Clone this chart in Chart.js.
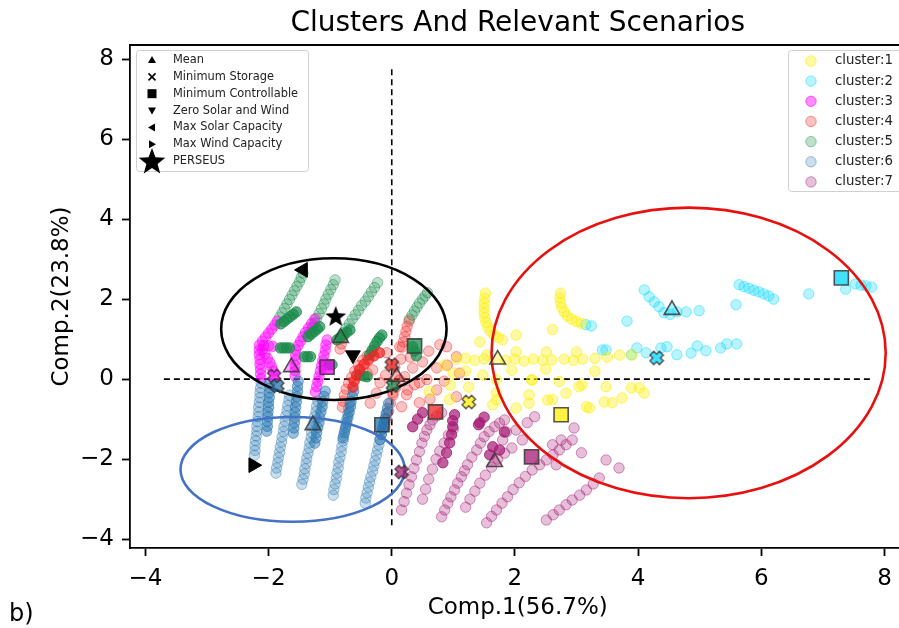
<!DOCTYPE html>
<html><head><meta charset="utf-8">
<script src="https://cdn.jsdelivr.net/npm/chart.js@4/dist/chart.umd.min.js"></script>
<style>html,body{margin:0;padding:0;overflow:hidden;background:#fff}canvas{display:block}</style>
</head><body>
<canvas id="c" width="917" height="628"></canvas>
<script>
// ---------- tick labels / axes ----------
const xTicks = [-4, -2, 0, 2, 4, 6, 8];
const yTicks = [-4, -2, 0, 2, 4, 6, 8];
const titleText = 'Clusters And Relevant Scenarios';
const xTitle = 'Comp.1(56.7%)';
const yTitle = 'Comp.2(23.8%)';
const panelLabel = 'b)';

// ---------- clusters ----------
const clusterNames = ['cluster:1','cluster:2','cluster:3','cluster:4','cluster:5','cluster:6','cluster:7'];
const clusterRGB = [[255,238,0],[0,215,255],[255,0,255],[240,35,35],[25,140,75],[35,115,175],[165,25,115]];

const cluster1 = [[1.52,2.15],[1.51,2.02],[1.5,1.9],[1.5,1.78],[1.5,1.66],[1.51,1.54],[1.53,1.42],[1.56,1.3],[1.6,1.2],[1.66,1.11],[1.73,1.04],[1.8,0.98],
 [2.74,2.15],[2.73,2.03],[2.74,1.91],[2.76,1.79],[2.8,1.68],[2.85,1.58],[2.92,1.5],[3.0,1.44],[3.08,1.39],
 [1.43,0.93],[2.02,1.1],[2.61,1.24],[1.54,0.6],[2.02,0.68],[2.51,0.68],[3.0,0.68],
 [1.05,0.5],[1.2,0.52],[1.35,0.47],[1.5,0.5],[1.85,0.47],[2.0,0.5],[2.15,0.45],[2.3,0.5],[2.45,0.47],[2.6,0.48],[2.8,0.5],[2.95,0.47],[3.1,0.5],[3.3,0.52],[3.5,0.55],[3.7,0.6],[3.9,0.6],
 [1.48,0.1],[0.61,-0.31],[0.94,-0.51],[1.64,-0.64],[2.02,-0.72],[2.28,-0.02],[2.72,-0.06],[3.04,-0.19],[3.48,-0.19],[1.7,-0.34],[2.23,-0.39],[2.61,-0.51],[3.16,-0.69],[3.58,-0.59],[4.02,-0.22],
 [1.7,-0.02],[2.27,-0.02],[3.09,-0.14],[1.7,-0.52],[2.23,-0.6],[2.53,-0.52],[2.83,-0.35],[3.21,-0.72],[3.45,-0.57],[3.74,-0.47],[3.89,-0.22],[4.1,-0.35],
 [0.85,0.35],[1.0,0.15],[1.2,0.2],[0.95,-0.15],[1.25,-0.2],[1.95,0.22],[2.5,0.25],[3.3,0.2]];

const cluster2 = [[4.1,2.23],[4.18,2.06],[4.26,1.93],[4.34,1.81],[4.42,1.66],[4.52,1.62],[4.63,1.68],[4.78,1.68],
 [5.64,2.36],[5.72,2.31],[5.8,2.27],[5.88,2.22],[5.96,2.18],[6.04,2.13],[6.12,2.08],[6.2,2.0],
 [3.15,1.36],[3.24,1.33],[3.82,1.45],[4.99,1.71],[5.59,1.86],[6.77,2.13],[7.37,2.25],[7.53,2.38],[7.62,2.35],[7.7,2.33],[7.79,2.3],
 [3.42,0.73],[3.48,0.73],[3.89,0.61],[3.98,0.78],[4.13,0.66],[4.37,0.78],[4.47,0.81],[4.63,0.61],[4.86,0.65],[4.96,0.83],[5.1,0.71],[5.34,0.78],[5.44,0.88],[5.6,0.88]];

const cluster3 = [[-2.15,0.85],[-2.1,0.95],[-2.05,1.05],[-2.0,1.15],[-1.95,1.25],[-1.9,1.35],[-1.86,1.45],
 [-2.08,0.84],[-2.0,0.83],[-1.93,0.82],
 [-2.1,0.74],[-2.06,0.63],[-2.02,0.52],[-1.98,0.41],[-1.95,0.3],[-1.92,0.2],
 [-2.15,0.73],[-2.15,0.61],[-2.14,0.49],[-2.14,0.37],[-2.13,0.25],[-2.13,0.13],[-2.12,0.01],
 [-1.56,0.73],[-1.52,0.84],[-1.48,0.95],[-1.44,1.06],[-1.4,1.17],[-1.35,1.28],[-1.3,1.39],[-1.25,1.5],
 [-1.56,0.6],[-1.56,0.47],[-1.57,0.34],[-1.57,0.21],[-1.57,0.08],
 [-1.05,0.98],[-1.07,0.85],[-1.08,0.72],[-1.1,0.59],[-1.12,0.46],[-1.14,0.33],[-1.16,0.2],[-1.18,0.07],[-1.2,-0.06],[-1.22,-0.19],[-1.24,-0.32]];

const cluster4 = [[-0.8,-0.7],[-0.79,-0.55],[-0.77,-0.4],[-0.74,-0.25],[-0.7,-0.1],[-0.65,0.05],[-0.6,0.2],[-0.54,0.34],[-0.47,0.47],[-0.4,0.58],[-0.32,0.68],
 [-0.11,-1.19],[-0.08,-1.0],[-0.05,-0.8],[-0.02,-0.6],[0.02,-0.4],[0.07,-0.2],[0.13,-0.02],
 [0.17,0.8],[0.19,0.93],[0.21,1.06],[0.23,1.19],[0.25,1.32],[0.28,1.45],
 [-0.84,0.75],[-0.82,0.88],[-0.8,1.02],
 [0.89,0.81],[1.05,0.56],[1.1,0.15],[0.73,0.28],[0.5,0.43],[0.34,0.28],[0.21,0.06],[0.45,-0.09],[0.26,-0.27],[0.45,-0.59],[0.73,-0.27],[1.05,-0.44],
 [-0.08,0.66],[0.13,0.81],[0.78,0.86],[0.02,-0.34],[0.16,-0.69],[0.57,-0.01],[0.37,-0.14],[0.24,-0.39],[-0.19,-0.09],[-0.31,0.23],[-0.4,0.15],
 [0.6,0.7],[0.9,0.35],[0.3,0.55],[0.05,0.3],[-0.1,0.1],[0.62,-0.5],[0.85,-0.05],[0.15,0.5],[-0.25,-0.35],[-0.35,-0.6]];
const cluster4Core = [[-0.63,-0.2],[-0.61,-0.05],[-0.57,0.1],[-0.52,0.24],[-0.45,0.37],[-0.38,0.48],[-0.29,0.58],[-0.2,0.66]];

const cluster5 = [[-1.82,1.55],[-1.78,1.66],[-1.74,1.77],[-1.7,1.88],[-1.66,1.99],[-1.62,2.1],[-1.58,2.21],[-1.54,2.32],[-1.5,2.43],[-1.47,2.54],[-1.44,2.65],
 [-1.33,1.16],[-1.29,1.28],[-1.25,1.4],[-1.22,1.52],[-1.18,1.64],[-1.14,1.76],[-1.1,1.88],[-1.07,2.0],[-1.03,2.12],[-0.99,2.24],[-0.95,2.36],[-0.92,2.48],
 [-0.79,1.16],[-0.74,1.27],[-0.69,1.38],[-0.64,1.5],[-0.59,1.61],[-0.54,1.72],[-0.49,1.84],[-0.43,1.95],[-0.38,2.06],[-0.33,2.18],[-0.28,2.29],[-0.23,2.41],
 [0.29,1.5],[0.33,1.6],[0.37,1.7],[0.41,1.8],[0.45,1.9],[0.5,2.0],[0.54,2.08],[0.58,2.16]];
const cluster5Core = [[-1.8,1.38],[-1.75,1.44],[-1.7,1.5],[-1.65,1.56],[-1.6,1.62],[-1.55,1.68],
 [-1.81,0.78],[-1.76,0.78],[-1.71,0.78],[-1.66,0.78],
 [-1.42,0.56],[-1.37,0.56],[-1.32,0.56],
 [-1.36,1.06],[-1.31,1.12],[-1.26,1.19],[-1.21,1.25],[-1.17,1.31],
 [-0.89,0.98],[-0.84,1.04],[-0.78,1.1],[-0.73,1.17],[-0.68,1.23],
 [-0.36,0.61],[-0.32,0.72],[-0.28,0.83],[-0.24,0.94],[-0.2,1.03],[-0.16,1.1],
 [-0.52,0.1],[-0.46,0.08],[-0.4,0.06],
 [0.34,0.81],[0.37,0.7],[0.4,0.58],
 [-1.02,0.36],[-0.97,0.36]];

const cluster6 = [[-2.12,-0.1],[-2.13,-0.22],[-2.14,-0.34],[-2.14,-0.46],[-2.15,-0.58],[-2.16,-0.7],[-2.16,-0.82],[-2.17,-0.94],[-2.18,-1.06],[-2.19,-1.18],[-2.19,-1.3],[-2.2,-1.42],[-2.21,-1.54],[-2.22,-1.66],[-2.22,-1.78],[-2.23,-1.9],
 [-1.66,-0.4],[-1.67,-0.53],[-1.69,-0.66],[-1.7,-0.79],[-1.72,-0.92],[-1.73,-1.05],[-1.75,-1.18],[-1.76,-1.31],[-1.78,-1.44],[-1.79,-1.57],[-1.81,-1.7],[-1.82,-1.83],[-1.84,-1.96],[-1.85,-2.09],[-1.87,-2.22],[-1.88,-2.35],
 [-1.2,-0.55],[-1.22,-0.68],[-1.23,-0.81],[-1.25,-0.94],[-1.26,-1.07],[-1.28,-1.2],[-1.3,-1.33],[-1.31,-1.46],[-1.33,-1.59],[-1.34,-1.72],[-1.36,-1.85],[-1.38,-1.98],[-1.39,-2.11],[-1.41,-2.24],[-1.42,-2.37],[-1.44,-2.5],[-1.46,-2.63],
 [-0.68,-0.6],[-0.7,-0.73],[-0.71,-0.87],[-0.73,-1.0],[-0.74,-1.14],[-0.76,-1.27],[-0.78,-1.41],[-0.79,-1.54],[-0.81,-1.68],[-0.82,-1.81],[-0.84,-1.95],[-0.86,-2.08],[-0.87,-2.22],[-0.89,-2.35],[-0.9,-2.49],[-0.92,-2.62],[-0.94,-2.76],[-0.95,-2.9],
 [-0.08,-0.85],[-0.1,-0.98],[-0.12,-1.11],[-0.15,-1.24],[-0.17,-1.38],[-0.19,-1.51],[-0.21,-1.64],[-0.23,-1.77],[-0.25,-1.9],[-0.27,-2.04],[-0.29,-2.17],[-0.31,-2.3],[-0.34,-2.44],[-0.36,-2.57],[-0.38,-2.7],[-0.4,-2.84],[-0.42,-2.97],[-0.43,-3.1]];
const cluster6Core = [[-1.98,-0.1],[-1.98,-0.22],[-1.99,-0.34],[-1.99,-0.46],[-2.0,-0.58],[-2.0,-0.7],[-2.01,-0.82],[-2.01,-0.94],[-2.02,-1.06],[-2.02,-1.18],[-2.03,-1.3],
 [-1.52,-0.05],[-1.53,-0.18],[-1.53,-0.31],[-1.54,-0.44],[-1.55,-0.57],[-1.56,-0.7],[-1.57,-0.83],[-1.57,-0.96],[-1.58,-1.09],[-1.59,-1.22],[-1.6,-1.35],
 [-1.08,-0.3],[-1.1,-0.43],[-1.12,-0.56],[-1.13,-0.69],[-1.15,-0.82],[-1.17,-0.95],[-1.18,-1.08],[-1.2,-1.21],[-1.22,-1.34],[-1.23,-1.47],[-1.25,-1.6],
 [-0.62,-0.3],[-0.64,-0.43],[-0.66,-0.56],[-0.67,-0.69],[-0.69,-0.82],[-0.71,-0.95],[-0.73,-1.08],[-0.75,-1.21],[-0.77,-1.34],[-0.79,-1.47],
 [-0.05,-0.6],[-0.07,-0.73],[-0.09,-0.86],[-0.11,-0.99],[-0.13,-1.12],[-0.15,-1.25],[-0.17,-1.38],[-0.19,-1.51]];

const cluster7 = [[0.16,-3.27],[0.2,-3.06],[0.24,-2.85],[0.28,-2.64],[0.32,-2.44],[0.36,-2.23],[0.4,-2.02],[0.45,-1.81],[0.49,-1.6],[0.53,-1.43],[0.57,-1.27],[0.62,-1.14],[0.66,-1.02],[0.73,-0.92],[0.81,-0.84],
 [0.5,-3.0],[0.55,-2.75],[0.6,-2.5],[0.66,-2.25],[0.72,-2.0],[0.78,-1.8],[0.85,-1.6],[0.92,-1.4],[1.0,-1.25],
 [0.81,-3.44],[0.86,-3.27],[0.91,-3.1],[0.96,-2.94],[1.02,-2.77],[1.07,-2.6],[1.13,-2.44],[1.18,-2.29],[1.23,-2.14],[1.3,-1.95],[1.38,-1.77],[1.44,-1.6],[1.5,-1.44],[1.58,-1.31],[1.67,-1.19],[1.75,-1.1],[1.83,-1.02],
 [1.2,-3.2],[1.27,-3.0],[1.35,-2.8],[1.43,-2.6],[1.52,-2.4],[1.62,-2.2],[1.72,-2.0],[1.83,-1.85],[1.95,-1.72],
 [1.54,-3.59],[1.62,-3.43],[1.7,-3.27],[1.79,-3.1],[1.88,-2.94],[1.97,-2.76],[2.07,-2.59],[2.17,-2.43],[2.28,-2.27],[2.4,-2.14],[2.51,-2.02],[2.62,-1.89],[2.72,-1.77],[2.83,-1.64],[2.93,-1.52],
 [2.51,-3.52],[2.62,-3.39],[2.72,-3.27],[2.83,-3.14],[2.93,-3.02],[3.05,-2.9],[3.16,-2.77],[3.27,-2.62],[3.37,-2.47],
 [3.48,-2.02],[3.69,-2.22],[3.08,-1.84],[2.96,-1.22],[2.75,-1.52],[2.61,-1.64],[2.67,-2.14],[2.32,-0.94],[2.2,-1.09],[2.12,-1.52],[2.02,-1.27],[1.86,-1.32],[1.8,-1.52]];
const cluster7Core = [[1.02,-0.89],[0.99,-1.04],[0.99,-1.19],[0.97,-1.39],[0.94,-1.59],[0.89,-1.84],[0.83,-2.09],[1.43,-1.09],[1.5,-0.95],[1.64,-1.69],[1.75,-1.77],[1.59,-1.89],[0.34,-1.19],[0.42,-1.0],[0.5,-0.84],[1.41,-1.14],[1.83,-1.32]];

// ---------- relevant scenarios (one per cluster, cluster order 1..7) ----------
const meanPts        = [[1.72,0.49],[4.55,1.73],[-1.63,0.3],[0.08,0.06],[-0.83,1.03],[-1.28,-1.15],[1.67,-2.07]];
const minStoragePts  = [[1.25,-0.57],[4.3,0.53],[-1.91,0.08],[0.0,0.36],[0.02,-0.15],[-1.86,-0.17],[0.16,-2.32]];
const minCtrlPts     = [[2.75,-0.89],[7.3,2.53],[-1.05,0.3],[0.71,-0.82],[0.37,0.83],[-0.16,-1.14],[2.27,-1.94]];
const zeroSolarWind  = [[-0.63,0.6]];
const maxSolar       = [[-1.44,2.73]];
const maxWind        = [[-2.25,-2.15]];
const perseus        = [[-0.91,1.58]];

// reference lines and highlight ellipses (data units)
const hLine = [[-3.7,0],[7.8,0]];
const vLine = [[0,-3.65],[0,7.75]];
const ellipses = [
  {cx:-0.94, cy:1.25, rx:1.83, ry:1.77, color:'#000000'},
  {cx:-1.61, cy:-2.255, rx:1.82, ry:1.31, color:'#4472c4'},
  {cx:4.82, cy:0.655, rx:3.2, ry:3.63, color:'#e8100f'}
];
const markerLegend = ['Mean','Minimum Storage','Minimum Controllable','Zero Solar and Wind','Max Solar Capacity','Max Wind Capacity','PERSEUS'];

// ---------- helpers ----------
const FONT = "'DejaVu Sans', sans-serif";
const rgba = (c,a) => `rgba(${c[0]},${c[1]},${c[2]},${a})`;
const toXY = arr => arr.map(p => ({x:p[0], y:p[1]}));

function makeX(fill, edge, s) {
  const cv = document.createElement('canvas'); cv.width = s; cv.height = s;
  const g = cv.getContext('2d'); const h = s/2, t = s*0.17, L = s*0.42;
  g.translate(h,h); g.rotate(Math.PI/4);
  g.beginPath();
  g.moveTo(-t,-L); g.lineTo(t,-L); g.lineTo(t,-t); g.lineTo(L,-t); g.lineTo(L,t); g.lineTo(t,t);
  g.lineTo(t,L); g.lineTo(-t,L); g.lineTo(-t,t); g.lineTo(-L,t); g.lineTo(-L,-t); g.lineTo(-t,-t); g.closePath();
  g.fillStyle = fill; g.fill(); g.lineWidth = 1.4; g.strokeStyle = edge; g.stroke();
  return cv;
}
function starPath(g, cx, cy, R) {
  const r = R*0.42; g.beginPath();
  for (let i=0;i<10;i++){ const a = -Math.PI/2 + i*Math.PI/5; const rr = i%2===0?R:r;
    const px = cx + rr*Math.cos(a), py = cy + rr*Math.sin(a); i?g.lineTo(px,py):g.moveTo(px,py);} g.closePath();
}
function makeStar(s) {
  const cv = document.createElement('canvas'); cv.width = s; cv.height = s;
  const g = cv.getContext('2d'); starPath(g, s/2, s/2+s*0.05, s*0.5); g.fillStyle='#000'; g.fill(); return cv;
}

const clusterSeries = [cluster1, cluster2, cluster3, cluster4, cluster5, cluster6, cluster7];
const coreSeries = {3: cluster4Core, 4: cluster5Core, 5: cluster6Core, 6: cluster7Core};
const fillAlpha = [0.36, 0.28, 0.45, 0.28, 0.28, 0.24, 0.28];
const edgeAlpha = [0.6, 0.45, 0.55, 0.45, 0.45, 0.42, 0.45];
const coreAlpha = {3:0.7, 4:0.7, 5:0.45, 6:0.7};
const edgeGray = 'rgba(55,55,55,0.85)';
const PR = 5.2;

const datasets = [];
datasets.push({label:'Mean', data:toXY(meanPts), special:true, order:1, pointStyle:'triangle', pointRadius:9,
  backgroundColor: clusterRGB.map(c=>rgba(c,0.35)), borderColor:edgeGray, borderWidth:1.6});
datasets.push({label:'Minimum Storage', data:toXY(minStoragePts), special:true, order:1,
  pointStyle: clusterRGB.map(c=>makeX(rgba(c,0.75), edgeGray, 16)), pointRadius:8, backgroundColor:'#000', borderWidth:0});
datasets.push({label:'Minimum Controllable', data:toXY(minCtrlPts), special:true, order:1, pointStyle:'rect', pointRadius:10,
  backgroundColor: clusterRGB.map(c=>rgba(c,0.75)), borderColor:edgeGray, borderWidth:1.6});
datasets.push({label:'Zero Solar and Wind', data:toXY(zeroSolarWind), special:true, order:1, pointStyle:'triangle', rotation:180, pointRadius:8.5,
  backgroundColor:'#000', borderColor:'#000', borderWidth:1});
datasets.push({label:'Max Solar Capacity', data:toXY(maxSolar), special:true, order:1, pointStyle:'triangle', rotation:-90, pointRadius:8.5,
  backgroundColor:'#000', borderColor:'#000', borderWidth:1});
datasets.push({label:'Max Wind Capacity', data:toXY(maxWind), special:true, order:1, pointStyle:'triangle', rotation:90, pointRadius:8.5,
  backgroundColor:'#000', borderColor:'#000', borderWidth:1});
datasets.push({label:'PERSEUS', data:toXY(perseus), special:true, order:1, pointStyle:makeStar(22), pointRadius:11, backgroundColor:'#000', borderWidth:0});
clusterSeries.forEach((arr,i)=>{
  const c = clusterRGB[i];
  datasets.push({label:clusterNames[i], data:toXY(arr), order:10, pointStyle:'circle', pointRadius:PR,
    backgroundColor:rgba(c,fillAlpha[i]), borderColor:rgba(c,edgeAlpha[i]), borderWidth:1});
  if (coreSeries[i]) datasets.push({label:clusterNames[i]+' core', data:toXY(coreSeries[i]), order:9, pointStyle:'circle', pointRadius:PR,
    backgroundColor:rgba(c,coreAlpha[i]), borderColor:rgba(c,Math.min(1,coreAlpha[i]+0.12)), borderWidth:1});
});
[hLine, vLine].forEach((l,k)=>datasets.push({label:k?'x=0':'y=0', data:toXY(l), order:20, showLine:true, pointRadius:0,
  borderColor:'#000', borderWidth:1.6, borderDash:[6,4], fill:false}));

let ellDrawn = false;
const deco = {
  id:'deco',
  beforeDatasetsDraw(){ ellDrawn = false; },
  beforeDatasetDraw(chart, args){
    if (ellDrawn || !chart.data.datasets[args.index].special) return;
    ellDrawn = true;
    const {ctx, scales:{x,y}} = chart;
    ctx.save(); ctx.lineWidth = 2.6;
    ellipses.forEach(e=>{
      const cx = x.getPixelForValue(e.cx), cy = y.getPixelForValue(e.cy);
      const rx = Math.abs(x.getPixelForValue(e.cx+e.rx)-cx), ry = Math.abs(y.getPixelForValue(e.cy+e.ry)-cy);
      ctx.beginPath(); ctx.ellipse(cx,cy,rx,ry,0,0,Math.PI*2); ctx.strokeStyle = e.color; ctx.stroke();
    });
    ctx.restore();
  },
  afterDraw(chart){
    const {ctx, chartArea:a} = chart;
    ctx.save();
    ctx.strokeStyle='#000'; ctx.lineWidth=1.8; ctx.beginPath(); ctx.moveTo(a.left-0.9,a.top); ctx.lineTo(a.right+2,a.top); ctx.stroke();
    ctx.fillStyle='#000'; ctx.font = `28px ${FONT}`; ctx.textAlign='center'; ctx.textBaseline='alphabetic';
    ctx.fillText(titleText, (a.left+a.right)/2, 31);
    ctx.font = `24px ${FONT}`; ctx.textAlign='left'; ctx.fillText(panelLabel, 9, 621);
    const box = (x0,y0,w,h)=>{ ctx.beginPath(); ctx.roundRect(x0,y0,w,h,3); ctx.fillStyle='rgba(255,255,255,0.85)'; ctx.fill();
      ctx.strokeStyle='#d0d0d0'; ctx.lineWidth=1; ctx.stroke(); };
    box(136.5,50.5,172,121);
    const lx = 152, ly0 = 60, ldy = 16.85;
    markerLegend.forEach((t,i)=>{
      const yy = ly0 + i*ldy; ctx.fillStyle='#000'; ctx.strokeStyle='#000';
      ctx.beginPath();
      if (i===0){ ctx.moveTo(lx,yy-4); ctx.lineTo(lx+4,yy+3); ctx.lineTo(lx-4,yy+3); ctx.closePath(); ctx.fill(); }
      else if (i===1){ ctx.lineWidth=1.6; ctx.moveTo(lx-3.5,yy-3.5); ctx.lineTo(lx+3.5,yy+3.5); ctx.moveTo(lx+3.5,yy-3.5); ctx.lineTo(lx-3.5,yy+3.5); ctx.stroke(); }
      else if (i===2){ ctx.fillRect(lx-4.5,yy-4.5,9,9); }
      else if (i===3){ ctx.moveTo(lx,yy+4); ctx.lineTo(lx+4,yy-3); ctx.lineTo(lx-4,yy-3); ctx.closePath(); ctx.fill(); }
      else if (i===4){ ctx.moveTo(lx-4,yy); ctx.lineTo(lx+3,yy-4); ctx.lineTo(lx+3,yy+4); ctx.closePath(); ctx.fill(); }
      else if (i===5){ ctx.moveTo(lx+4,yy); ctx.lineTo(lx-3,yy-4); ctx.lineTo(lx-3,yy+4); ctx.closePath(); ctx.fill(); }
      else { starPath(ctx, lx, yy+1, 14); ctx.fill(); }
      ctx.fillStyle='#222'; ctx.font = `11.4px ${FONT}`; ctx.textAlign='left'; ctx.textBaseline='middle';
      ctx.fillText(t, 173, yy);
    });
    box(788.5,50.5,140,141);
    clusterNames.forEach((t,i)=>{
      const yy = 61 + i*20.15;
      ctx.beginPath(); ctx.arc(811,yy,PR,0,Math.PI*2); ctx.fillStyle=rgba(clusterRGB[i],fillAlpha[i]); ctx.fill();
      ctx.strokeStyle=rgba(clusterRGB[i],edgeAlpha[i]); ctx.lineWidth=1; ctx.stroke();
      ctx.fillStyle='#222'; ctx.font = `13.3px ${FONT}`; ctx.textAlign='left'; ctx.textBaseline='middle';
      ctx.fillText(t, 835, yy);
    });
    ctx.restore();
  }
};

const tickFmt = v => (v < 0 ? '\u2212' + Math.abs(v) : String(v));
new Chart(document.getElementById('c'), {
  type:'scatter',
  data:{datasets},
  options:{
    responsive:false, animation:false, devicePixelRatio:1,
    layout:{padding:{top:45,left:0,right:0,bottom:0}},
    plugins:{legend:{display:false}, tooltip:{enabled:false}, title:{display:false}},
    scales:{
      x:{type:'linear', min:-4.25, max:8.34,
        afterFit(s){ s.height = 80; },
        afterBuildTicks(s){ s.ticks = xTicks.map(v=>({value:v})); },
        grid:{display:true, drawOnChartArea:false, drawTicks:true, tickLength:8, tickWidth:1.8, tickColor:'#000'},
        border:{display:true, color:'#000', width:1.8},
        ticks:{color:'#000', font:{family:FONT, size:23}, padding:9, callback:tickFmt, maxRotation:0},
        title:{display:true, text:xTitle, color:'#000', font:{family:FONT, size:23}, padding:{top:0,bottom:6}}},
      y:{type:'linear', min:-4.22, max:8.35,
        afterFit(s){ s.width = 130; },
        afterBuildTicks(s){ s.ticks = yTicks.map(v=>({value:v})); },
        grid:{display:true, drawOnChartArea:false, drawTicks:true, tickLength:8, tickWidth:1.8, tickColor:'#000'},
        border:{display:true, color:'#000', width:1.8},
        ticks:{color:'#000', font:{family:FONT, size:23}, padding:8, callback:tickFmt},
        title:{display:true, text:yTitle, color:'#000', font:{family:FONT, size:23}, padding:{top:48,bottom:0}}}
    }
  },
  plugins:[deco]
});
</script>
</body></html>
